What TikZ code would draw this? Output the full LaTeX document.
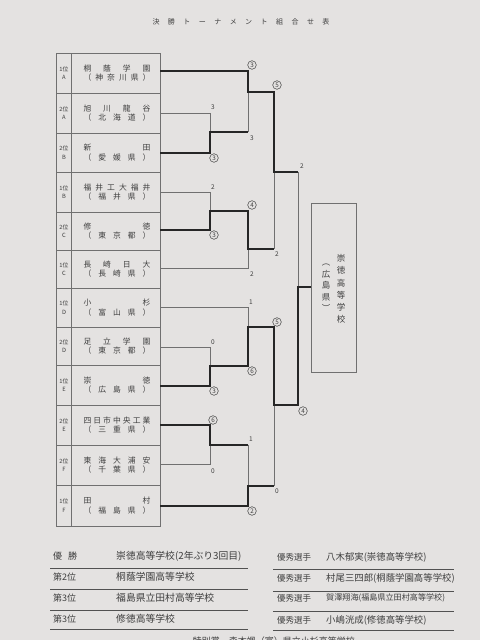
\documentclass[tikz,border=0pt]{standalone}
\usepackage{fontspec}
\usepackage{graphicx}
\setmainfont{Noto Sans CJK JP}
\definecolor{paper}{RGB}{228,226,225}
\definecolor{ink}{RGB}{38,38,38}
\definecolor{lgray}{RGB}{112,112,112}
\definecolor{txt}{RGB}{62,62,62}
\newcommand\fs[1]{\fontsize{#1}{#1}\selectfont}
\newcommand\teamrow[6]{%
  \node[font=\fs{5.8}, align=center, text=txt, inner sep=0] (rk#1) at (64,#2) {#3\\[2.5pt]#4};
  \node[font=\fs{7.8}, text=txt, inner sep=0] (nm#1) at (117,#2-4.5) {\makebox[67pt]{#5}};
  \node[font=\fs{7.8}, text=txt, inner sep=0] (pf#1) at (117,#2+5) {\makebox[67pt]{#6}};}
\tikzset{
  lose/.style={draw=lgray, line width=0.75pt},
  win/.style={draw=ink, line width=1.9pt, line join=miter},
  tab/.style={draw=lgray, line width=0.8pt},
  rule/.style={draw=ink!80, line width=0.9pt},
  circ/.style={circle, draw=txt, line width=0.5pt, inner sep=0pt, minimum size=8.6pt, font=\fs{6.3}, text=txt},
  score/.style={inner sep=0pt, font=\fs{6.5}, text=txt},
  lbl/.style={inner sep=0pt, anchor=west, text=txt}
}
\begin{document}
\begin{tikzpicture}[x=1pt,y=-1pt]
\useasboundingbox (0,0) rectangle (480,640);
\fill[paper] (0,0) rectangle (480,640);
\begin{scope}
\clip (0,0) rectangle (480,640);
% title
\node[font=\fs{7}, text=txt, inner sep=0] (title) at (241,22) {\makebox[177pt]{決\hfill 勝\hfill ト\hfill ー\hfill ナ\hfill メ\hfill ン\hfill ト\hfill 組\hfill 合\hfill せ\hfill 表}};
% table
\draw[tab] (56,53) rectangle (160,526);
\draw[tab] (71,53) -- (71,526);
\foreach \yy in {93,133,172,212,250,288,327,365,405,445,485}
  \draw[tab] (56,\yy) -- (160,\yy);
\teamrow{1}{73}{1位}{A}{桐\hfill 蔭\hfill 学\hfill 園}{（\hfill 神\hfill 奈\hfill 川\hfill 県\hfill ）}
\teamrow{2}{113}{2位}{A}{旭\hfill 川\hfill 龍\hfill 谷}{（\hfill 北\hfill 海\hfill 道\hfill ）}
\teamrow{3}{152.5}{2位}{B}{新\hfill 田}{（\hfill 愛\hfill 媛\hfill 県\hfill ）}
\teamrow{4}{192}{1位}{B}{福\hfill 井\hfill 工\hfill 大\hfill 福\hfill 井}{（\hfill 福\hfill 井\hfill 県\hfill ）}
\teamrow{5}{231}{2位}{C}{修\hfill 徳}{（\hfill 東\hfill 京\hfill 都\hfill ）}
\teamrow{6}{269}{1位}{C}{長\hfill 崎\hfill 日\hfill 大}{（\hfill 長\hfill 崎\hfill 県\hfill ）}
\teamrow{7}{307.5}{1位}{D}{小\hfill 杉}{（\hfill 富\hfill 山\hfill 県\hfill ）}
\teamrow{8}{346}{2位}{D}{足\hfill 立\hfill 学\hfill 園}{（\hfill 東\hfill 京\hfill 都\hfill ）}
\teamrow{9}{385}{1位}{E}{崇\hfill 徳}{（\hfill 広\hfill 島\hfill 県\hfill ）}
\teamrow{10}{425}{2位}{E}{四\hfill 日\hfill 市\hfill 中\hfill 央\hfill 工\hfill 業}{（\hfill 三\hfill 重\hfill 県\hfill ）}
\teamrow{11}{465}{2位}{F}{東\hfill 海\hfill 大\hfill 浦\hfill 安}{（\hfill 千\hfill 葉\hfill 県\hfill ）}
\teamrow{12}{505.5}{1位}{F}{田\hfill 村}{（\hfill 福\hfill 島\hfill 県\hfill ）}
% bracket: losing lines
\draw[lose] (160,113) -- (210,113) -- (210,132);
\draw[lose] (248,92) -- (248,132);
\draw[lose] (160,192) -- (210,192) -- (210,211);
\draw[lose] (160,268) -- (248,268) -- (248,249);
\draw[lose] (274,172) -- (274,249);
\draw[lose] (298,172) -- (298,287);
\draw[lose] (160,307) -- (248,307) -- (248,327);
\draw[lose] (160,347) -- (210,347) -- (210,366);
\draw[lose] (160,464) -- (210,464) -- (210,445);
\draw[lose] (248,445) -- (248,486);
\draw[lose] (274,405) -- (274,486);
% bracket: winning lines
\draw[win] (160,71) -- (248,71) -- (248,92) -- (274,92) -- (274,172) -- (298,172);
\draw[win] (160,153) -- (210,153) -- (210,132) -- (248,132);
\draw[win] (160,230) -- (210,230) -- (210,211) -- (248,211) -- (248,249) -- (274,249);
\draw[win] (160,386) -- (210,386) -- (210,366) -- (248,366) -- (248,327) -- (274,327) -- (274,405) -- (298,405) -- (298,287) -- (311,287);
\draw[win] (160,425) -- (210,425) -- (210,445) -- (248,445);
\draw[win] (160,506) -- (248,506) -- (248,486) -- (274,486);
% scores
\node[circ] (s1) at (252,65) {3};
\node[score] (s2) at (213,107) {3};
\node[circ] (s3) at (214,158) {3};
\node[score] (s4) at (252,138) {3};
\node[circ] (s5) at (277,85) {5};
\node[score] (s6) at (213,187) {2};
\node[circ] (s7) at (214,235) {3};
\node[circ] (s8) at (252,205) {4};
\node[score] (s9) at (252,274) {2};
\node[score] (s10) at (277,254) {2};
\node[score] (s11) at (302,166) {2};
\node[score] (s12) at (251,302) {1};
\node[score] (s13) at (213,342) {0};
\node[circ] (s14) at (214,391) {3};
\node[circ] (s15) at (252,371) {6};
\node[circ] (s16) at (277,322) {5};
\node[circ] (s17) at (213,420) {6};
\node[score] (s18) at (213,471) {0};
\node[score] (s19) at (251,439) {1};
\node[circ] (s20) at (252,511) {2};
\node[score] (s21) at (277,491) {0};
\node[circ] (s22) at (303,411) {4};
% champion box
\draw[draw=lgray, line width=0.9pt] (311,203) rectangle (356,372);
\node[font=\fontsize{8.5}{12.2}\selectfont, align=center, text=txt, inner sep=0] (champ) at (341,289) {崇\\徳\\高\\等\\学\\校};
\node[font=\fontsize{8.5}{11.5}\selectfont, align=center, text=txt, inner sep=0] (champp) at (326,288) {︵\\広\\島\\県\\︶};
% results left
\foreach \yy in {568,589,610,629} \draw[rule] (50,\yy) -- (248,\yy);
\node[lbl, font=\fs{9}] (r1a) at (53,556) {\makebox[24pt]{優\hfill 勝}};
\node[lbl, font=\fs{9}] (r2a) at (53,577) {第2位};
\node[lbl, font=\fs{9}] (r3a) at (53,598) {第3位};
\node[lbl, font=\fs{9}] (r4a) at (53,619) {第3位};
\node[lbl, font=\fs{9.8}] (r1b) at (116,556) {崇徳高等学校(2年ぶり3回目)};
\node[lbl, font=\fs{9.8}] (r2b) at (116,577) {桐蔭学園高等学校};
\node[lbl, font=\fs{9.8}] (r3b) at (116,598) {福島県立田村高等学校};
\node[lbl, font=\fs{9.8}] (r4b) at (116,619) {修徳高等学校};
% results right
\foreach \yy in {569,591,611,630} \draw[rule] (273,\yy) -- (454,\yy);
\foreach \yy/\nm in {557/p1,578/p2,598/p3,620/p4}
  \node[lbl, font=\fs{8.5}] (\nm) at (277,\yy) {優秀選手};
\node[lbl, font=\fs{9.4}] (q1) at (326,557) {八木郁実(崇徳高等学校)};
\node[lbl, font=\fs{9.4}] (q2) at (326,578) {村尾三四郎(桐蔭学園高等学校)};
\node[lbl, font=\fs{8.1}] (q3) at (326,598) {賀澤翔海(福島県立田村高等学校)};
\node[lbl, font=\fs{9.4}] (q4) at (326,620) {小嶋洸成(修徳高等学校)};
\node[inner sep=0, anchor=east, font=\fs{9}, text=txt] (sp) at (355,641) {特別賞　森本颯（富）県立小杉高等学校};
\end{scope}
\end{tikzpicture}
\end{document}
